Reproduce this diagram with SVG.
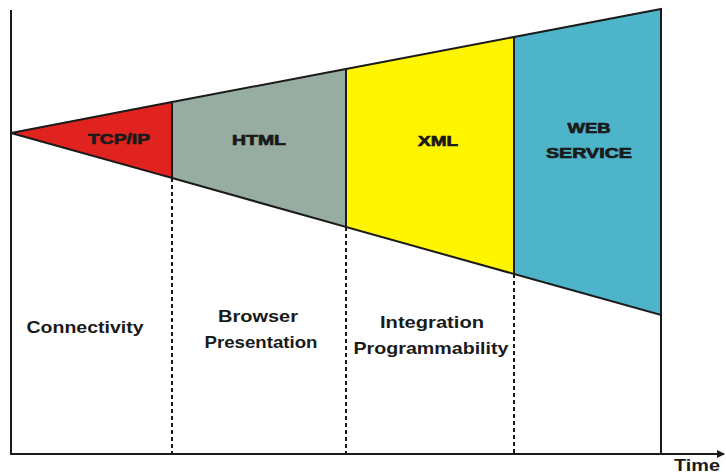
<svg xmlns="http://www.w3.org/2000/svg" width="726" height="474" viewBox="0 0 726 474">
<defs>
<style>
.seg{stroke:#1a1a1a;stroke-width:2;stroke-linejoin:miter}
.hd{font-family:"Liberation Sans",Arial,sans-serif;font-weight:bold;font-size:15px;fill:#1a1a1a;stroke:#1a1a1a;stroke-width:0.7;text-anchor:middle}
.lb{font-family:"Liberation Sans",Arial,sans-serif;font-weight:bold;font-size:17px;fill:#1a1a1a;text-anchor:middle}
.dash{stroke:#1a1a1a;stroke-width:2;stroke-dasharray:4,3;fill:none}
.ax{stroke:#1a1a1a;stroke-width:2;fill:none}
</style>
<marker id="arr" markerWidth="8" markerHeight="8" refX="7" refY="4" orient="auto" markerUnits="userSpaceOnUse">
<path d="M0,0 L8,4 L0,8 Z" fill="#1a1a1a"/>
</marker>
</defs>
<rect width="726" height="474" fill="#ffffff"/>
<g id="connectors">
<line class="ax" x1="11" y1="10" x2="11" y2="454"/>
<line class="ax" x1="10" y1="454" x2="724" y2="454" marker-end="url(#arr)"/>
<line class="dash" x1="172" y1="178" x2="172" y2="453"/>
<line class="dash" x1="346" y1="227" x2="346" y2="453"/>
<line class="dash" x1="514" y1="274" x2="514" y2="453"/>
<line class="ax" x1="661" y1="315" x2="661" y2="454"/>
</g>
<g id="tcpip">
<polygon class="seg" fill="#E0231F" points="11,133 172,102 172,178"/>
<text class="hd" x="119" y="144" textLength="62" lengthAdjust="spacingAndGlyphs">TCP/IP</text>
</g>
<g id="html">
<polygon class="seg" fill="#97ADA1" points="172,102 346,69 346,227 172,178"/>
<text class="hd" x="259" y="145" textLength="54" lengthAdjust="spacingAndGlyphs">HTML</text>
</g>
<g id="xml">
<polygon class="seg" fill="#FFF500" points="346,69 514,37 514,274 346,227"/>
<text class="hd" x="438" y="146" textLength="40" lengthAdjust="spacingAndGlyphs">XML</text>
</g>
<g id="webservice">
<polygon class="seg" fill="#4DB4C9" points="514,37 661,9 661,315 514,274"/>
<text class="hd" x="589" y="133" textLength="43" lengthAdjust="spacingAndGlyphs">WEB</text>
<text class="hd" x="589" y="158" textLength="86" lengthAdjust="spacingAndGlyphs">SERVICE</text>
</g>
<g id="labels">
<text class="lb" x="85" y="333" textLength="117" lengthAdjust="spacingAndGlyphs">Connectivity</text>
<text class="lb" x="258" y="322" textLength="80" lengthAdjust="spacingAndGlyphs">Browser</text>
<text class="lb" x="261" y="348" textLength="113" lengthAdjust="spacingAndGlyphs">Presentation</text>
<text class="lb" x="432" y="328" textLength="104" lengthAdjust="spacingAndGlyphs">Integration</text>
<text class="lb" x="431" y="354" textLength="155" lengthAdjust="spacingAndGlyphs">Programmability</text>
<text class="lb" x="697" y="471" textLength="46" lengthAdjust="spacingAndGlyphs">Time</text>
</g>
</svg>
